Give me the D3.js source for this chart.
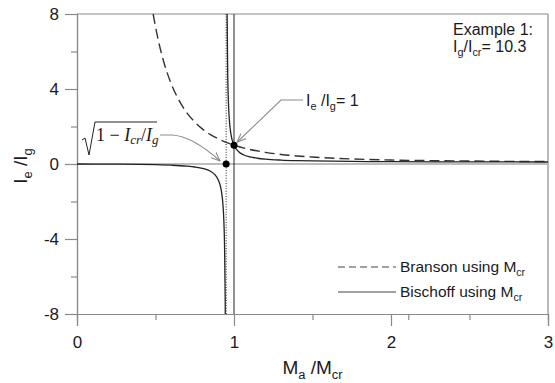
<!DOCTYPE html>
<html>
<head>
<meta charset="utf-8">
<script src="https://cdn.jsdelivr.net/npm/d3@7"></script>
<style>
  body { margin: 0; background: #fff; }
  svg { display: block; font-family: 'Liberation Sans', Arial, sans-serif; }
</style>
</head>
<body>
<svg id="chart" width="555" height="383"></svg>
<script>
// Branson using Mcr (dashed)
const bransonX = [0.485, 0.5, 0.52, 0.55, 0.57, 0.6, 0.65, 0.7, 0.75, 0.8, 0.85, 0.9, 0.95, 1.0, 1.1, 1.2, 1.3, 1.4, 1.5, 1.75, 2.0, 2.25, 2.5, 2.75, 3.0];
const bransonY = [8.0, 7.32, 6.52, 5.52, 4.97, 4.28, 3.39, 2.73, 2.24, 1.86, 1.57, 1.34, 1.15, 1.0, 0.78, 0.62, 0.51, 0.43, 0.37, 0.27, 0.21, 0.18, 0.16, 0.14, 0.13];

// Bischoff using Mcr (solid), two branches either side of the asymptote
const bischoffLeftX = [0, 0.2, 0.4, 0.5, 0.6, 0.7, 0.75, 0.8, 0.85, 0.88, 0.9, 0.91, 0.92, 0.93, 0.935, 0.94, 0.944, 0.9445];
const bischoffLeftY = [0, -0.005, -0.021, -0.037, -0.064, -0.115, -0.160, -0.236, -0.389, -0.585, -0.847, -1.075, -1.454, -2.21, -2.96, -4.45, -7.36, -8.0];
const bischoffRightX = [0.956, 0.96, 0.965, 0.97, 0.98, 0.99, 1.0, 1.03, 1.06, 1.1, 1.15, 1.2, 1.3, 1.4, 1.5, 1.75, 2.0, 2.5, 3.0];
const bischoffRightY = [8.0, 4.78, 3.19, 2.40, 1.62, 1.23, 1.0, 0.652, 0.494, 0.383, 0.306, 0.260, 0.209, 0.180, 0.162, 0.138, 0.125, 0.114, 0.108];

// marked points and reference lines
const pointX = [0.95, 1.0];
const pointY = [0, 1];
const dottedLineX = 0.95;
const solidLineX = 1.0;

// ticks
const xMajorTicks = [0, 1, 2, 3];
const xMinorTicks = [0.5, 1.5, 2.11, 2.5];
const yMajorTicks = [-8, -4, 0, 4, 8];
const yMinorTicks = [-6, -2, 2, 6];

const svg = d3.select('#chart');
const margin = { top: 14, right: 7, bottom: 69, left: 77 };
const width = 555 - margin.left - margin.right;
const height = 383 - margin.top - margin.bottom;

const g = svg.append('g').attr('transform', `translate(${margin.left},${margin.top})`);

const x = d3.scaleLinear().domain([0, 3]).range([0, width]);
const y = d3.scaleLinear().domain([-8, 8]).range([height, 0]);

const axisColor = '#8a8a8a';
const arrowColor = '#8c8c8c';

svg.append('defs').append('marker')
    .attr('id', 'arrow')
    .attr('viewBox', '0 0 10 10')
    .attr('refX', 10).attr('refY', 5)
    .attr('markerWidth', 9).attr('markerHeight', 9)
    .attr('markerUnits', 'userSpaceOnUse')
    .attr('orient', 'auto')
    .append('path')
    .attr('d', 'M0,1 L10,5 L0,9')
    .attr('fill', 'none')
    .attr('stroke', arrowColor)
    .attr('stroke-width', 1.2);

// frame (top + right)
g.append('line').attr('x1', 0).attr('x2', width).attr('y1', 0).attr('y2', 0)
    .attr('stroke', axisColor).attr('stroke-width', 1.2);
g.append('line').attr('x1', width).attr('x2', width).attr('y1', 0).attr('y2', height)
    .attr('stroke', axisColor).attr('stroke-width', 1.2);

// zero line
g.append('line').attr('x1', 0).attr('x2', width).attr('y1', y(0)).attr('y2', y(0))
    .attr('stroke', '#bdbdbd').attr('stroke-width', 2);

// axes (plain hyphen minus, as in the original)
const fmt = d => String(d);
g.append('g').attr('class', 'axis')
    .attr('transform', `translate(0,${height})`)
    .call(d3.axisBottom(x).tickValues(xMajorTicks).tickSize(12).tickPadding(10).tickFormat(fmt));
g.append('g').attr('class', 'axis-minor')
    .attr('transform', `translate(0,${height})`)
    .call(d3.axisBottom(x).tickValues(xMinorTicks).tickSize(6).tickFormat(''));

g.append('g').attr('class', 'axis')
    .call(d3.axisLeft(y).tickValues(yMajorTicks).tickSize(12).tickPadding(6).tickFormat(fmt));
g.append('g').attr('class', 'axis-minor')
    .call(d3.axisLeft(y).tickValues(yMinorTicks).tickSize(6).tickFormat(''));

svg.selectAll('.axis path, .axis line, .axis-minor path, .axis-minor line')
    .attr('stroke', axisColor).attr('stroke-width', 1.2);
svg.selectAll('.axis text').attr('fill', '#1a1a1a').attr('font-size', '17px')
    .attr('font-family', "'Liberation Sans', Arial, sans-serif");

// vertical reference lines
g.append('line').attr('x1', x(dottedLineX)).attr('x2', x(dottedLineX)).attr('y1', 0).attr('y2', height)
    .attr('stroke', '#222').attr('stroke-width', 1).attr('stroke-dasharray', '1,1.6');
g.append('line').attr('x1', x(solidLineX)).attr('x2', x(solidLineX)).attr('y1', 0).attr('y2', height)
    .attr('stroke', '#222').attr('stroke-width', 1);

// curves
const line = d3.line().x(d => x(d[0])).y(d => y(d[1])).curve(d3.curveMonotoneX);

g.append('path')
    .datum(d3.zip(bransonX, bransonY))
    .attr('d', line)
    .attr('fill', 'none').attr('stroke', '#333').attr('stroke-width', 1.4)
    .attr('stroke-dasharray', '10,5');

[d3.zip(bischoffLeftX, bischoffLeftY), d3.zip(bischoffRightX, bischoffRightY)].forEach(pts => {
    g.append('path')
        .datum(pts)
        .attr('d', line)
        .attr('fill', 'none').attr('stroke', '#222').attr('stroke-width', 1.3);
});

// points
g.selectAll('.pt')
    .data(d3.zip(pointX, pointY))
    .join('circle')
    .attr('class', 'pt')
    .attr('cx', d => x(d[0]))
    .attr('cy', d => y(d[1]))
    .attr('r', 3.5)
    .attr('fill', '#000');

// text with subscripts: parts = [[text, isSub], ...]
function richText(parent, px, py, parts, size, opts = {}) {
    const t = parent.append('text')
        .attr('x', px).attr('y', py)
        .attr('font-size', size + 'px')
        .attr('fill', '#1a1a1a')
        .attr('text-anchor', opts.anchor || 'start');
    if (opts.transform) t.attr('transform', opts.transform);
    let prevSub = false;
    parts.forEach(([s, sub]) => {
        const ts = t.append('tspan').text(s);
        if (sub) ts.attr('font-size', (size * 0.68) + 'px');
        if (sub && !prevSub) ts.attr('dy', size * 0.28);
        if (!sub && prevSub) ts.attr('dy', -size * 0.28);
        prevSub = sub;
    });
    return t;
}

// axis titles
richText(svg, margin.left + width / 2, 374, [['M', false], ['a', true], [' /M', false], ['cr', true]], 19, { anchor: 'middle' });
richText(svg, 0, 0, [['I', false], ['e', true], [' /I', false], ['g', true]], 19,
    { anchor: 'middle', transform: `translate(27,${margin.top + y(0) + 2}) rotate(-90)` });

// Example note
svg.append('text').attr('x', 453).attr('y', 35).attr('font-size', '16px').attr('fill', '#1a1a1a').text('Example 1:');
richText(svg, 453, 52, [['I', false], ['g', true], ['/I', false], ['cr', true], ['= 10.3', false]], 16);

// Ie/Ig = 1 annotation
richText(svg, 306, 106, [['I', false], ['e', true], [' /I', false], ['g', true], ['= 1', false]], 16);
svg.append('path')
    .attr('d', `M303,100 L281,100 L${margin.left + x(1) + 3},${margin.top + y(1) - 3}`)
    .attr('fill', 'none').attr('stroke', arrowColor).attr('stroke-width', 1.1)
    .attr('marker-end', 'url(#arrow)');

// sqrt(1 - Icr/Ig) annotation
const sq = svg.append('g');
sq.append('path')
    .attr('d', 'M82,140 L85,138 L89,155 L95,122 L157,122')
    .attr('fill', 'none').attr('stroke', '#222').attr('stroke-width', 1);
const sqt = sq.append('text').attr('x', 96).attr('y', 141).attr('font-size', '18px')
    .attr('font-family', "'Liberation Serif', 'DejaVu Serif', serif").attr('fill', '#1a1a1a');
sqt.append('tspan').text('1 − ');
sqt.append('tspan').attr('font-style', 'italic').text('I');
sqt.append('tspan').attr('font-style', 'italic').attr('font-size', '13px').attr('dy', 3).text('cr');
sqt.append('tspan').attr('dy', -3).text('/');
sqt.append('tspan').attr('font-style', 'italic').text('I');
sqt.append('tspan').attr('font-style', 'italic').attr('font-size', '13px').attr('dy', 3).text('g');
svg.append('path')
    .attr('d', `M160,135 L172,135 Q192,136 ${margin.left + x(0.95) - 6},${margin.top + y(0) - 3}`)
    .attr('fill', 'none').attr('stroke', arrowColor).attr('stroke-width', 1.1)
    .attr('marker-end', 'url(#arrow)');

// legend
const legend = [
    { label: 'Branson using ', dash: '7,4' },
    { label: 'Bischoff using ', dash: null }
];
legend.forEach((d, i) => {
    const ly = 267 + i * 25;
    svg.append('line').attr('x1', 338).attr('x2', 396).attr('y1', ly).attr('y2', ly)
        .attr('stroke', '#444').attr('stroke-width', 1.2)
        .attr('stroke-dasharray', d.dash);
    richText(svg, 400, ly + 5, [[d.label + 'M', false], ['cr', true]], 15.5);
});
</script>
</body>
</html>
